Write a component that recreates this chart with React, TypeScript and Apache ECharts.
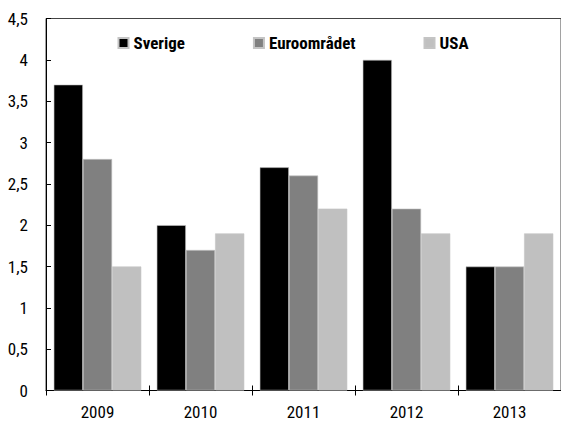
import React, { useEffect, useRef } from "react";
import * as echarts from "echarts";

const categories = ["2009", "2010", "2011", "2012", "2013"];
const seriesNames = ["Sverige", "Euroområdet", "USA"];
const sverige = [3.7, 2.0, 2.7, 4.0, 1.5];
const euroomradet = [2.8, 1.7, 2.6, 2.2, 1.5];
const usa = [1.5, 1.9, 2.2, 1.9, 1.9];
const yTickLabels = ["0", "0,5", "1", "1,5", "2", "2,5", "3", "3,5", "4", "4,5"];
const colors = ["#000000", "#808080", "#c0c0c0"];

const FONT = "'Roboto Condensed', 'DejaVu Sans Condensed', sans-serif";

export default function App() {
  const ref = useRef<HTMLDivElement>(null);
  useEffect(() => {
    if (!ref.current) return;
    const chart = echarts.init(ref.current, undefined, { renderer: "svg" });
    const values = [sverige, euroomradet, usa];
    chart.setOption({
      animation: false,
      backgroundColor: "#ffffff",
      textStyle: { fontFamily: FONT },
      grid: {
        left: 46,
        right: -4,
        top: 18.5,
        bottom: 34.5,
        show: true,
        borderColor: "#444444",
        borderWidth: 1,
        backgroundColor: "transparent",
      },
      legend: {
        data: seriesNames,
        left: 117.5,
        top: 34.5,
        padding: 0,
        itemGap: 68,
        itemWidth: 10,
        itemHeight: 10,
        icon: "rect",
        textStyle: { fontFamily: FONT, fontSize: 17, fontWeight: "bold", color: "#000" },
      },
      xAxis: [
        {
          type: "category",
          data: categories,
          position: "bottom",
          axisLine: { show: true, lineStyle: { color: "#000", width: 1 } },
          axisTick: { show: true, length: 5, lineStyle: { color: "#000" } },
          axisLabel: { fontFamily: FONT, fontSize: 17, color: "#000", margin: 13 },
          splitLine: { show: false },
        },
        {
          type: "category",
          data: categories,
          position: "bottom",
          axisLine: { show: false },
          axisTick: { show: true, inside: true, length: 5, lineStyle: { color: "#000" } },
          axisLabel: { show: false },
          splitLine: { show: false },
        },
      ],
      yAxis: {
        type: "value",
        min: 0,
        max: 4.5,
        interval: 0.5,
        axisLine: { show: true, lineStyle: { color: "#000", width: 1 } },
        axisTick: { show: true, inside: true, length: 5, lineStyle: { color: "#000" } },
        axisLabel: {
          fontFamily: FONT,
          fontSize: 17,
          color: "#000",
          margin: 18,
          formatter: (v: number) => yTickLabels[Math.round(v / 0.5)] ?? String(v).replace(".", ","),
        },
        splitLine: { show: false },
      },
      series: seriesNames.map((name, i) => ({
        name,
        type: "bar",
        data: values[i],
        barGap: "0%",
        barCategoryGap: "15%",
        itemStyle: { color: colors[i], borderColor: "#c4c4c4", borderWidth: 0.6 },
      })),
    });
    return () => chart.dispose();
  }, []);
  return <div ref={ref} style={{ position: "absolute", left: 0, top: 0, width: 561, height: 425 }} />;
}
